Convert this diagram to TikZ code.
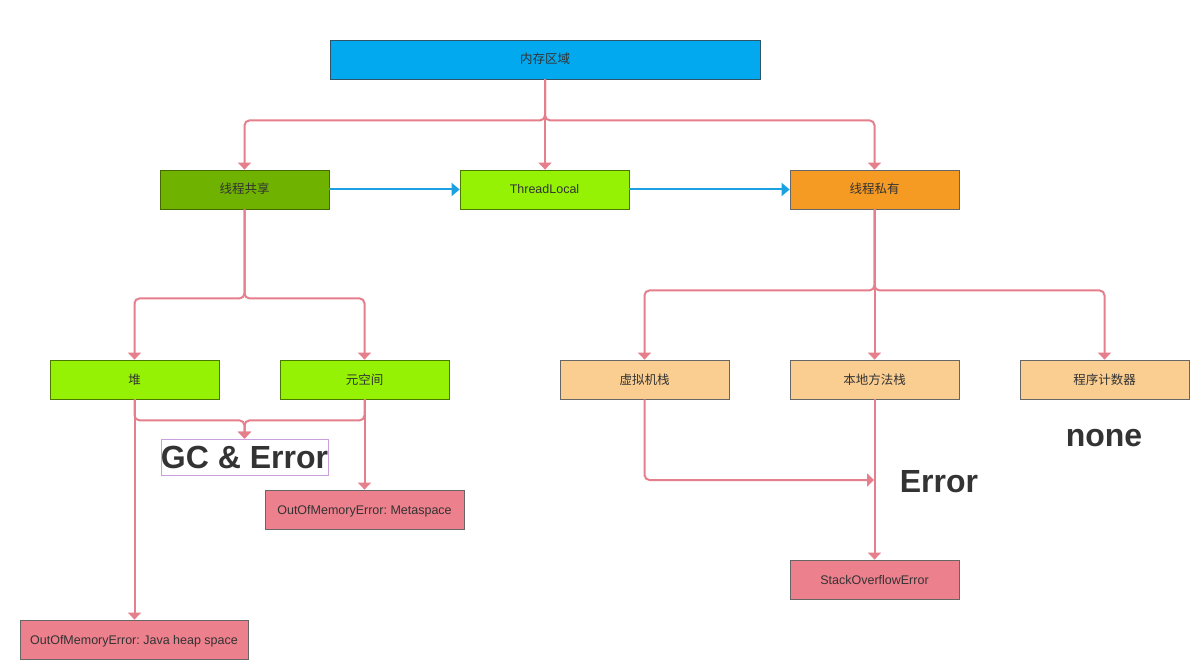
\documentclass[tikz,border=0pt]{standalone}
\usepackage{fontspec}
\setmainfont{Liberation Sans}
\newfontfamily\cjk{Noto Sans CJK SC}
\usetikzlibrary{arrows.meta}
\definecolor{txt}{HTML}{333333}
\definecolor{memblue}{HTML}{03A9EF}
\definecolor{dgreen}{HTML}{6FB300}
\definecolor{lgreen}{HTML}{95F204}
\definecolor{orange}{HTML}{F59A23}
\definecolor{peach}{HTML}{FACD91}
\definecolor{errpink}{HTML}{EC808D}
\definecolor{conn}{HTML}{E57F8C}
\definecolor{bluearr}{HTML}{1BA1E2}
\definecolor{lilac}{HTML}{C9A0DC}
\tikzset{
  box/.style={draw=#1, line width=0.8pt, inner sep=0pt, minimum width=169pt, minimum height=39pt, text=txt, text height=11pt, text depth=2pt, font=\fontsize{12.5}{14}\selectfont},
  box/.default={gray!80!black},
  link/.style={draw=conn, line width=2pt, rounded corners=5pt, -{Triangle[width=13pt,length=7pt]}},
  blink/.style={draw=bluearr, line width=2pt, -{Triangle[width=13pt,length=8pt]}},
  bigtxt/.style={text=txt, font=\fontsize{32}{36}\bfseries\selectfont, inner sep=0pt}
}
\begin{document}
\frenchspacing
\begin{tikzpicture}[x=1pt,y=-1pt]
\useasboundingbox[fill=white] (0,0) rectangle (1190,660);
% nodes
\node[box={gray!60!memblue!60!black}, fill=memblue, minimum width=430pt] (mem) at (545,59.5) {\cjk 内存区域};
\node[box={dgreen!60!black}, fill=dgreen] (shared) at (244.5,189.5) {\cjk 线程共享};
\node[box={lgreen!50!black}, fill=lgreen] (tl) at (544.5,189.5) {ThreadLocal};
\node[box={gray!80!black}, fill=orange] (priv) at (874.5,189.5) {\cjk 线程私有};
\node[box={lgreen!50!black}, fill=lgreen] (heap) at (134.5,379.5) {\cjk 堆};
\node[box={lgreen!50!black}, fill=lgreen] (meta) at (364.5,379.5) {\cjk 元空间};
\node[box, fill=peach] (vms) at (644.5,379.5) {\cjk 虚拟机栈};
\node[box, fill=peach] (nms) at (874.5,379.5) {\cjk 本地方法栈};
\node[box, fill=peach] (pc) at (1104.5,379.5) {\cjk 程序计数器};
\node[draw=lilac, line width=0.8pt, minimum width=167pt, minimum height=36pt, inner sep=0pt] (gc) at (244.5,457) {};
\node[bigtxt] at (gc.center) {GC \& Error};
\node[box, fill=errpink, minimum width=199pt] (oomm) at (364.5,509.5) {OutOfMemoryError: Metaspace};
\node[box, fill=errpink, minimum width=228pt] (oomh) at (134,639.5) {OutOfMemoryError: Java heap space};
\node[box, fill=errpink] (soe) at (874.5,579.5) {StackOverflowError};
\node[bigtxt] (err) at (939,482) {Error};
\node[bigtxt] (none) at (1104,438) {none};
\coordinate (errpt) at (874,480);
% connectors
\draw[link] (mem.south) -- ++(0,41) -| (shared.north);
\draw[link] (mem.south) -- (mem.south |- tl.north);
\draw[link] (mem.south) -- ++(0,41) -| (priv.north);
\draw[blink] (shared.east) -- (tl.west);
\draw[blink] (tl.east) -- (priv.west);
\draw[link] (shared.south) -- ++(0,89) -| (heap.north);
\draw[link] (shared.south) -- ++(0,89) -| (meta.north);
\draw[link] (heap.south) -- ++(0,21) -| (gc.north);
\draw[link] (meta.south) -- ++(0,21) -| (gc.north);
\draw[link] (heap.south) -- (oomh.north -| heap.south);
\draw[link] (meta.south) -- (oomm.north);
\draw[link] (priv.south) -- ++(0,81) -| (vms.north);
\draw[link] (priv.south) -- (nms.north);
\draw[link] (priv.south) -- ++(0,81) -| (pc.north);
\draw[link] (vms.south) |- (errpt);
\draw[link] (nms.south) -- (soe.north);
\end{tikzpicture}
\end{document}
